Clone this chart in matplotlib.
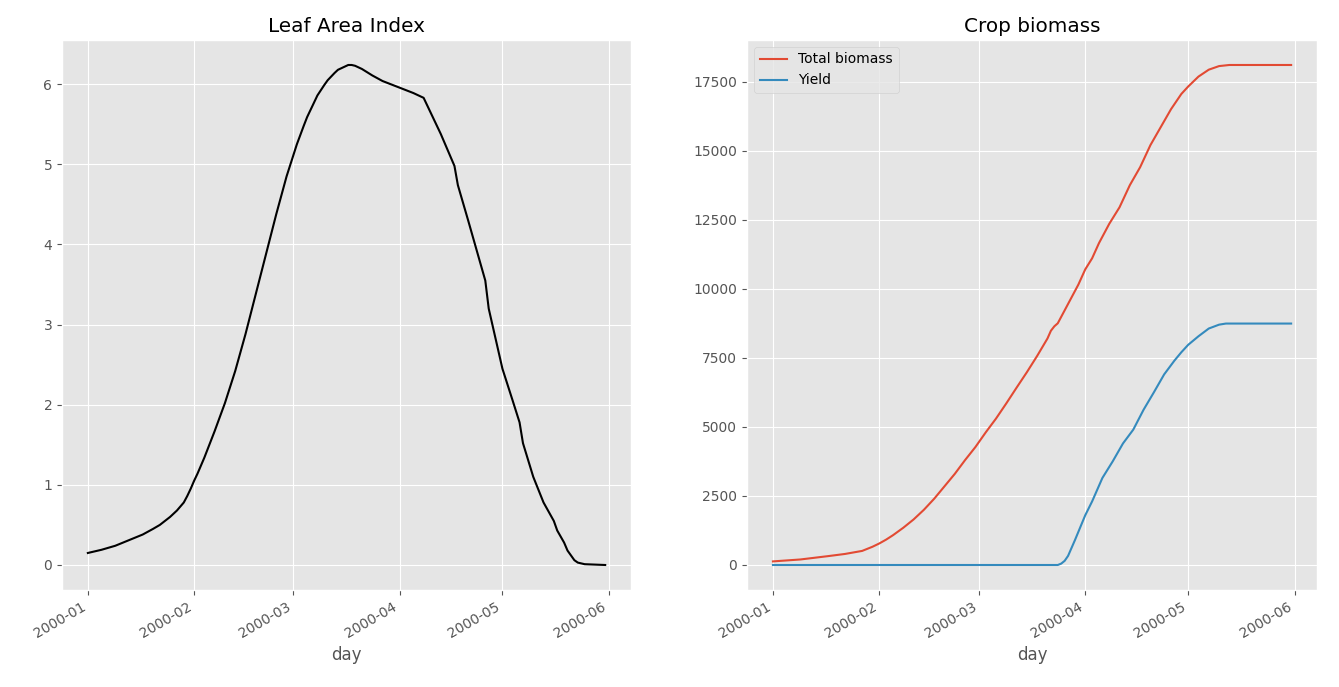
import numpy as np
import pandas as pd
import matplotlib
matplotlib.use("Agg")
import matplotlib.pyplot as plt

plt.style.use("ggplot")

# ----------- data (day offset from 2000-01-01) -----------

start = pd.Timestamp("2000-01-01")

lai_days = [0, 4, 8, 12, 16, 19, 21, 24, 26, 28, 29, 30, 31, 32, 34, 37, 40, 43,
            46, 49, 52, 55, 58, 61, 63, 64, 66, 67, 69, 70, 72, 73, 75, 76, 77,
            78, 80, 83, 86, 89, 92, 95, 98, 100, 103, 107, 108, 111, 114, 116,
            117, 121, 124, 126, 127, 130, 133, 136, 137, 139, 140, 141, 142, 143,
            145, 151]
lai = [0.15, 0.19, 0.24, 0.31, 0.38, 0.45, 0.50, 0.60, 0.68, 0.78, 0.86, 0.95,
       1.05, 1.14, 1.34, 1.67, 2.02, 2.42, 2.88, 3.38, 3.88, 4.38, 4.85, 5.25,
       5.48, 5.59, 5.77, 5.86, 5.99, 6.05, 6.14, 6.18, 6.22, 6.24, 6.24, 6.23,
       6.19, 6.11, 6.04, 5.99, 5.94, 5.89, 5.83, 5.65, 5.38, 4.98, 4.74, 4.30,
       3.85, 3.55, 3.20, 2.45, 2.05, 1.78, 1.52, 1.10, 0.78, 0.55, 0.43, 0.28,
       0.18, 0.12, 0.06, 0.03, 0.01, 0.0]

tagp_days = [0, 8, 16, 21, 26, 29, 31, 33, 35, 38, 41, 44, 47, 50, 53, 56, 59,
             62, 65, 68, 71, 74, 77, 80, 81, 82, 83, 86, 89, 91, 93, 95, 98, 101,
             104, 107, 110, 113, 116, 119, 121, 124, 127, 130, 133, 151]
tagp = [130, 200, 320, 400, 510, 660, 780, 920, 1080, 1350, 1650, 2000, 2400,
        2850, 3300, 3800, 4270, 4800, 5300, 5850, 6420, 6980, 7570, 8200, 8480,
        8640, 8750, 9450, 10150, 10700, 11100, 11650, 12350, 12950, 13750,
        14400, 15200, 15850, 16500, 17050, 17320, 17680, 17930, 18060, 18100,
        18100]

twso_days = [0, 83, 84, 85, 86, 88, 91, 93, 96, 99, 102, 105, 108, 111, 114,
             117, 119, 121, 124, 127, 130, 132, 151]
twso = [0, 0, 50, 150, 330, 900, 1800, 2300, 3150, 3750, 4400, 4900, 5620,
        6250, 6900, 7400, 7700, 7970, 8280, 8560, 8700, 8740, 8740]


def to_dates(days):
    return start + pd.to_timedelta(days, unit="D")


# ----------- figure -----------

fig, (ax1, ax2) = plt.subplots(1, 2, figsize=(13.39, 6.87), dpi=100)

ax1.plot(to_dates(lai_days), lai, color="k", lw=1.5)
ax1.set_title("Leaf Area Index")
ax1.set_xlabel("day")

ax2.plot(to_dates(tagp_days), tagp, label="Total biomass")
ax2.plot(to_dates(twso_days), twso, label="Yield")
ax2.set_title("Crop biomass")
ax2.set_xlabel("day")
ax2.legend(loc="upper left")

for ax in (ax1, ax2):
    for lab in ax.get_xticklabels():
        lab.set_rotation(30)
        lab.set_ha("right")

# axes placed where the reference has them
ax1.set_position([0.0463, 0.1412, 0.4250, 0.8006])
ax2.set_position([0.5579, 0.1412, 0.4257, 0.8006])
fig.savefig("out.png", dpi=100)
